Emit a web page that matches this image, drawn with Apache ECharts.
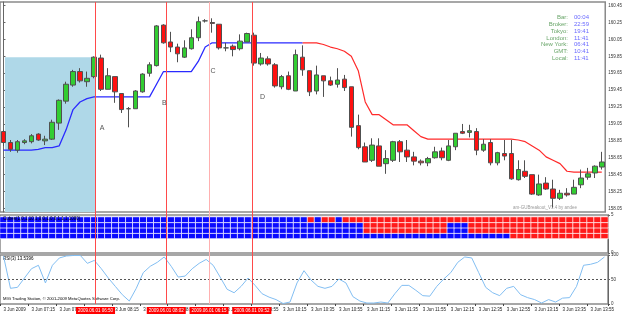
<!DOCTYPE html>
<html>
<head>
<meta charset="utf-8">
<script src="https://cdn.jsdelivr.net/npm/echarts@6/dist/echarts.min.js"></script>
<style>html,body{margin:0;padding:0;background:#fff}#chart{width:625px;height:315px}</style>
</head>
<body>
<div id="chart"></div>
<script>
// 5 minute bars, 3 Jun 2009
var times = ['06:55','07:00','07:05','07:10','07:15','07:20','07:25','07:30','07:35','07:40','07:45','07:50','07:55',
  '08:00','08:05','08:10','08:15','08:20','08:25','08:30','08:35','08:40','08:45','08:50','08:55',
  '09:00','09:05','09:10','09:15','09:20','09:25','09:30','09:35','09:40','09:45','09:50','09:55',
  '10:00','10:05','10:10','10:15','10:20','10:25','10:30','10:35','10:40','10:45','10:50','10:55',
  '11:00','11:05','11:10','11:15','11:20','11:25','11:30','11:35','11:40','11:45','11:50','11:55',
  '12:00','12:05','12:10','12:15','12:20','12:25','12:30','12:35','12:40','12:45','12:50','12:55',
  '13:00','13:05','13:10','13:15','13:20','13:25','13:30','13:35','13:40','13:45','13:50','13:55',
  '14:00','14:05'];

// open, close, low, high
var ohlc = [
  [158.96,158.83,158.79,158.98],[158.83,158.75,158.72,158.86],[158.74,158.84,158.71,158.86],[158.83,158.85,158.81,158.87],
  [158.84,158.91,158.82,158.93],[158.93,158.86,158.85,158.94],[158.85,158.87,158.80,158.91],[158.87,159.07,158.86,159.10],
  [159.06,159.33,158.98,159.34],[159.32,159.52,159.29,159.55],[159.51,159.67,159.49,159.69],[159.67,159.56,159.54,159.71],
  [159.55,159.59,159.49,159.67],[159.61,159.84,159.59,159.85],[159.83,159.46,159.44,159.87],[159.46,159.62,159.46,159.71],
  [159.61,159.43,159.30,159.61],[159.41,159.22,159.18,159.41],[159.23,159.23,159.01,159.25],[159.23,159.44,159.23,159.45],
  [159.43,159.64,159.42,159.65],[159.65,159.75,159.61,159.78],[159.74,160.21,159.73,160.22],[160.22,160.01,160.00,160.23],
  [160.02,159.96,159.90,160.14],[159.96,159.88,159.78,160.00],[159.84,159.95,159.83,160.04],[159.94,160.07,159.93,160.17],
  [160.07,160.26,160.03,160.32],[160.27,160.27,160.25,160.29],[160.25,160.24,160.13,160.30],[160.23,159.95,159.93,160.23],
  [159.95,159.95,159.91,160.01],[159.97,159.93,159.85,159.99],[159.94,160.03,159.92,160.11],[160.02,160.12,160.02,160.13],
  [160.10,159.77,159.74,160.13],[159.76,159.83,159.74,159.89],[159.82,159.76,159.74,159.85],[159.75,159.50,159.48,159.77],
  [159.49,159.61,159.46,159.63],[159.62,159.46,159.45,159.67],[159.44,159.87,159.44,159.93],[159.84,159.69,159.62,159.98],
  [159.68,159.43,159.38,159.68],[159.44,159.63,159.40,159.74],[159.62,159.56,159.37,159.62],[159.56,159.51,159.50,159.61],
  [159.52,159.57,159.48,159.71],[159.58,159.48,159.44,159.63],[159.49,159.01,158.90,159.49],[159.03,158.77,158.75,159.16],
  [158.78,158.60,158.60,158.83],[158.62,158.80,158.60,158.88],[158.79,158.55,158.55,158.88],[158.58,158.64,158.46,158.74],
  [158.62,158.84,158.60,158.85],[158.84,158.72,158.60,158.86],[158.74,158.66,158.60,158.86],[158.66,158.61,158.56,158.72],
  [158.61,158.59,158.56,158.63],[158.59,158.64,158.55,158.66],[158.65,158.72,158.64,158.78],[158.73,158.65,158.62,158.77],
  [158.62,158.79,158.61,158.86],[158.78,158.94,158.74,158.94],[158.96,158.94,158.93,159.05],[158.95,158.97,158.89,159.04],
  [158.96,158.74,158.68,159.00],[158.74,158.81,158.72,158.87],[158.83,158.59,158.56,158.87],[158.59,158.71,158.56,158.72],
  [158.70,158.67,158.62,158.86],[158.70,158.40,158.39,158.86],[158.39,158.51,158.38,158.62],[158.49,158.43,158.41,158.62],
  [158.45,158.22,158.21,158.45],[158.21,158.34,158.20,158.45],[158.35,158.28,158.27,158.42],[158.28,158.17,158.06,158.39],
  [158.17,158.23,158.15,158.27],[158.23,158.21,158.19,158.29],[158.22,158.30,158.22,158.39],[158.33,158.41,158.29,158.51],
  [158.42,158.46,158.39,158.53],[158.47,158.55,158.41,158.56],[158.54,158.60,158.51,158.72]
];

// breakout level, blue up to bar 43, red after
var level = [158.74,158.74,158.74,158.74,158.74,158.75,158.77,158.77,158.79,158.98,159.22,159.31,159.35,
  159.37,159.37,159.37,159.37,159.37,159.37,159.37,159.37,159.37,159.52,159.67,159.67,159.67,159.67,159.67,
  159.79,159.96,160.01,160.01,160.01,160.01,160.01,160.01,160.01,160.01,160.01,160.01,160.01,160.01,160.01,
  160.01,160.01,160.01,159.99,159.96,159.94,159.91,159.85,159.68,159.31,159.16,159.16,159.10,159.04,159.04,
  159.04,158.97,158.90,158.87,158.87,158.87,158.87,158.87,158.87,158.87,158.87,158.87,158.87,158.87,158.87,
  158.87,158.86,158.84,158.79,158.74,158.66,158.62,158.58,158.49,158.48,158.48,158.48,158.48,158.48];
var levelSwitch = 43;

var rsi = [98,32,34,53,72,79,43,79,94,98,99,99,83,89,72,53,36,19,6,32,64,77,85,96,77,55,57,72,83,91,
  79,55,30,23,36,53,38,21,14,9,1,4,43,68,49,36,32,36,51,43,15,6,2,2,4,2,21,38,38,28,
  17,16,36,51,64,85,96,94,64,34,23,17,32,36,19,13,9,2,9,4,12,13,36,79,81,85,96];

// cube rows, top to bottom: 0 = blue, 1 = red
var cubeRow1 = [0,0,0,0,0,0,0,0,0,0,0,0,0,0,0,0,0,0,0,0,0,0,0,0,0,0,0,0,0,0,0,0,0,0,0,0,0,0,0,0,0,0,0,0,
  1,0,1,1,0,1,1,1,1,1,1,1,1,1,1,1,1,1,1,1,1,1,1,1,1,1,1,1,1,1,1,1,1,1,1,1,1,1,1,1,1,1,1];
var cubeRow2 = [0,0,0,0,0,0,0,0,0,0,0,0,0,0,0,0,0,0,0,0,0,0,0,0,0,0,0,0,0,0,0,0,0,0,0,0,0,0,0,0,0,0,0,0,
  0,0,0,0,0,0,0,0,1,1,1,1,1,1,1,1,1,1,1,1,0,0,0,1,1,1,1,1,1,1,1,1,1,1,1,1,1,1,1,1,1,1,1];
var cubeRow3 = [0,0,0,0,0,0,0,0,0,0,0,0,0,0,0,0,0,0,0,0,0,0,0,0,0,0,0,0,0,0,0,0,0,0,0,0,0,0,0,0,0,0,0,0,
  0,0,0,0,0,0,0,0,1,1,1,1,1,1,1,1,1,1,1,1,0,0,0,1,1,1,1,1,1,1,1,1,1,1,1,1,1,1,1,1,1,1,1];
var cubeRow4 = [0,0,0,0,0,0,0,0,0,0,0,0,0,0,0,0,0,0,0,0,0,0,0,0,0,0,0,0,0,0,0,0,0,0,0,0,0,0,0,0,0,0,0,0,
  0,0,0,0,0,0,0,0,0,0,0,0,0,0,0,0,0,0,0,0,0,0,0,0,0,0,0,0,0,1,1,1,1,1,1,1,1,1,1,1,1,1,1];

var priceTicks = [158.05,158.25,158.45,158.65,158.85,159.05,159.25,159.45,159.65,159.85,160.05,160.25,160.45];

// vertical lines (in bar units) and their labels
var vLinePos = [13.17, 23.29, 29.41, 35.54];
var vLineText = ['2009.06.01 06:50', '2009.06.01 08:02', '2009.06.01 06:15', '2009.06.01 09:52'];
var vLineColor = ['#ff4a4a', '#ff4a4a', '#ffb0b0', '#ff4a4a'];

var letters = [['A', 14.17, 159.00], ['B', 23.14, 159.30], ['C', 30.11, 159.68], ['D', 37.23, 159.37]];

var infoNames = ['Bar:', 'Broker:', 'Tokyo:', 'London:', 'New York:', 'GMT:', 'Local:'];
var infoValues = ['00:04', '22:59', '19:41', '11:41', '06:41', '10:41', '11:41'];

var FONT = '"Liberation Sans", Arial, sans-serif';
var GL = -3, GW = 611;

var blueLine = level.map(function (v, i) { return i <= levelSwitch ? v : null; });
var redLine = level.map(function (v, i) { return i >= levelSwitch ? v : null; });

var cubeData = [];
[cubeRow4, cubeRow3, cubeRow2, cubeRow1].forEach(function (row, r) {
  row.forEach(function (v, i) { cubeData.push([i, r, v]); });
});

var graphics = [];
infoNames.forEach(function (n, k) {
  graphics.push({ type: 'text', x: 568, y: 17.5 + k * 6.8, style: { text: n, fill: '#6aa66a', font: '6px ' + FONT, textAlign: 'right', textVerticalAlign: 'middle' } });
  graphics.push({ type: 'text', x: 574, y: 17.5 + k * 6.8, style: { text: infoValues[k], fill: '#6a6aff', font: '6px ' + FONT, textAlign: 'left', textVerticalAlign: 'middle' } });
});
graphics.push({ type: 'text', x: 577, y: 208, style: { text: 'am-GUBreakout_V3.4 by andee', fill: '#9a9a9a', font: '4.5px ' + FONT, textAlign: 'right', textVerticalAlign: 'middle' } });
graphics.push({ type: 'text', x: 3, y: 219, z: 100, style: { text: 'Cubes(1,0,1,10,1,0,0,1,0,0,1,1,1,1000)', fill: '#000', font: '4.5px ' + FONT, textAlign: 'left', textVerticalAlign: 'middle' } });
graphics.push({ type: 'text', x: 3, y: 258.5, style: { text: 'RSI(3) 13.5396', fill: '#000', font: '4.5px ' + FONT, textAlign: 'left', textVerticalAlign: 'middle' } });
graphics.push({ type: 'text', x: 3, y: 299, style: { text: 'MIG Trading Station, \u00a9 2001-2009 MetaQuotes Software Corp.', fill: '#000', font: '4.2px ' + FONT, textAlign: 'left', textVerticalAlign: 'middle' } });

var rightLabel = { color: '#333', fontSize: 4.5, fontFamily: FONT, margin: 3 };

var chart = echarts.init(document.getElementById('chart'), null, { renderer: 'canvas' });
chart.setOption({
  animation: false,
  backgroundColor: '#fff',
  grid: [
    { left: GL, width: GW, top: 2, height: 210, show: true, borderColor: '#8a8a8a', borderWidth: 1.5, backgroundColor: '#fff' },
    { left: GL, width: GW, top: 215, height: 38, show: true, borderColor: '#8a8a8a', borderWidth: 1.5 },
    { left: GL, width: GW, top: 255, height: 49, show: true, borderColor: '#8a8a8a', borderWidth: 1.5 },
    { left: GL, width: GW, top: 2, height: 302 },
    { left: GL, width: GW, top: 217, height: 21.5 }
  ],
  xAxis: [
    { type: 'category', gridIndex: 0, data: times, show: false },
    { type: 'category', gridIndex: 1, data: times, show: false },
    { type: 'category', gridIndex: 2, data: times, position: 'bottom',
      axisLine: { show: false },
      axisTick: { show: true, interval: 3, length: 2, lineStyle: { color: '#444' } },
      axisLabel: { interval: 3, align: 'left', color: '#222', fontSize: 4.5, fontFamily: FONT, margin: 3,
        formatter: function (v, i) { return i === 0 ? '3 Jun 2009' : '3 Jun ' + v; } } },
    { type: 'value', gridIndex: 3, min: -0.5, max: 86.5, show: false },
    { type: 'category', gridIndex: 4, data: times, show: false },
    { type: 'value', gridIndex: 0, min: -0.5, max: 86.5, show: false }
  ],
  yAxis: [
    { type: 'value', gridIndex: 0, position: 'right', min: 158.008, max: 160.493, splitLine: { show: false },
      axisLine: { show: true, lineStyle: { color: '#666' } },
      axisTick: { show: true, length: 2, customValues: priceTicks, lineStyle: { color: '#666' } },
      axisLabel: Object.assign({ customValues: priceTicks, formatter: function (v) { return v.toFixed(2); } }, rightLabel) },
    { type: 'value', gridIndex: 1, position: 'right', min: 0, max: 5, splitLine: { show: false },
      axisLine: { show: true, lineStyle: { color: '#666' } },
      axisTick: { show: true, length: 2, customValues: [0, 5] },
      axisLabel: Object.assign({ customValues: [0, 5] }, rightLabel) },
    { type: 'value', gridIndex: 2, position: 'right', min: 0, max: 100, splitLine: { show: false },
      axisLine: { show: true, lineStyle: { color: '#666' } },
      axisTick: { show: true, length: 2, customValues: [0, 50, 100] },
      axisLabel: Object.assign({ customValues: [0, 50, 100] }, rightLabel) },
    { type: 'value', gridIndex: 3, min: 0, max: 1, show: false },
    { type: 'category', gridIndex: 4, data: ['r4', 'r3', 'r2', 'r1'], show: false }
  ],
  visualMap: {
    show: false, type: 'piecewise', seriesIndex: 5,
    pieces: [{ value: 0, color: '#0a0aff' }, { value: 1, color: '#ff1a1a' }]
  },
  series: [
    { type: 'line', xAxisIndex: 5, yAxisIndex: 0, data: [], silent: true, z: 1,
      markArea: { silent: true, itemStyle: { color: '#afd8e8' },
        data: [[{ xAxis: 0.21, yAxis: 159.84 }, { xAxis: vLinePos[0], yAxis: 158.008 }]] },
      markPoint: { symbol: 'circle', symbolSize: 0,
        label: { show: true, formatter: '{b}', color: '#555', fontSize: 7, fontFamily: FONT },
        data: letters.map(function (l) { return { name: l[0], coord: [l[1], l[2]] }; }) } },
    { type: 'candlestick', xAxisIndex: 0, yAxisIndex: 0, data: ohlc, barWidth: 5, z: 3,
      itemStyle: { color: '#32cd32', color0: '#ff1010', borderColor: '#505050', borderColor0: '#505050', borderWidth: 1 } },
    { type: 'line', xAxisIndex: 0, yAxisIndex: 0, data: blueLine, showSymbol: false, z: 2,
      lineStyle: { color: '#2a2aff', width: 1.3 } },
    { type: 'line', xAxisIndex: 0, yAxisIndex: 0, data: redLine, showSymbol: false, z: 2,
      lineStyle: { color: '#ff2a2a', width: 1.2 } },
    { type: 'line', xAxisIndex: 2, yAxisIndex: 2, data: rsi, showSymbol: false,
      lineStyle: { color: '#82bef2', width: 1 },
      markLine: { silent: true, symbol: 'none', label: { show: false },
        lineStyle: { color: '#555', type: [2, 2], width: 1 }, data: [{ yAxis: 50 }] } },
    { type: 'heatmap', xAxisIndex: 4, yAxisIndex: 4, data: cubeData,
      itemStyle: { borderColor: 'rgba(255,255,255,0.75)', borderWidth: 1 } },
    { type: 'line', xAxisIndex: 3, yAxisIndex: 3, data: [], z: 20, silent: true,
      markLine: { silent: true, symbol: 'none',
        data: vLinePos.map(function (p, k) {
          return { xAxis: p, lineStyle: { color: vLineColor[k], width: 1, type: 'solid' },
            label: { show: true, position: 'start', formatter: vLineText[k], distance: 3,
              backgroundColor: '#ff0000', color: '#fff', fontSize: 4.5, fontFamily: FONT, padding: [1, 2] } };
        }) } }
  ],
  graphic: graphics
});
</script>
</body>
</html>
